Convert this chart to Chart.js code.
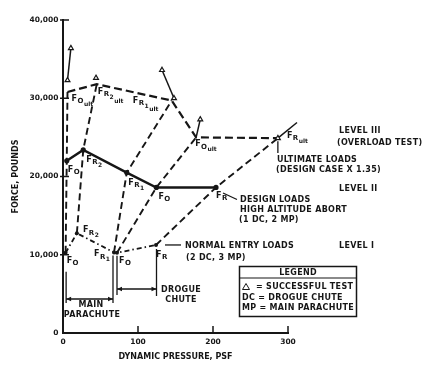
<!DOCTYPE html>
<html>
<head>
<meta charset="utf-8">
<script src="https://cdn.jsdelivr.net/npm/chart.js@4.4.1/dist/chart.umd.min.js"></script>
<style>
  html, body { margin: 0; padding: 0; background: #fff; }
</style>
</head>
<body>
<canvas id="chart" width="434" height="372"></canvas>
<script>
// Values: dynamic pressure (psf) / force (pounds)
// points in order: F_O, F_R2, F_R1, F_O, F_R
const ultPressure = [6, 45, 145, 177.5, 286.5];
const ultForce = [30800, 31800, 29700, 25000, 24900];
const designPressure = [5, 27, 85, 124.5, 204];
const designForce = [22000, 23400, 20500, 18600, 18600];
const normalPressure = [3.5, 18.5, 68, 72, 124];
const normalForce = [10250, 12750, 10300, 10250, 11250];
const pointSubs = [['O'], ['R', '2'], ['R', '1'], ['O'], ['R']];

// successful tests (pairs joined by a short solid line)
const testPressure = [[6, 10.5], [44], [132, 148], [177.5, 183], [286.5, 312]];
const testForce = [[32300, 36400], [32600], [33600, 30000], [25000, 27300], [24900, 26900]];
const testMarked = [[true, true], [true], [true, true], [false, true], [true, true]];

const pressureTicks = [0, 100, 200, 300];
const forceTicks = [0, 10000, 20000, 30000, 40000];

const INK = '#161616';
const FAMILY = "'DejaVu Sans', 'Liberation Sans', sans-serif";
const f = (size) => 'bold ' + size + 'px ' + FAMILY;

function pts(xs, ys) {
    return xs.map((x, i) => ({ x: x, y: ys[i] }));
}

const datasets = [];

// test markers on top
testPressure.forEach((xs, i) => {
    datasets.push({
        data: pts(xs, testForce[i]),
        borderColor: INK,
        borderWidth: 1.5,
        pointStyle: 'triangle',
        pointRadius: testMarked[i].map(m => m ? 2.8 : 0),
        pointBackgroundColor: '#fff',
        pointBorderColor: INK,
        pointBorderWidth: 1.2,
        clip: false
    });
});

datasets.push({
    data: pts(designPressure, designForce),
    borderColor: INK, borderWidth: 2.4,
    pointRadius: 2.6, pointBackgroundColor: INK, pointBorderWidth: 0,
    clip: false
});
datasets.push({
    data: pts(normalPressure, normalForce),
    borderColor: INK, borderWidth: 1.8, borderDash: [5, 3, 1.5, 3],
    pointRadius: 2, pointBackgroundColor: INK, pointBorderWidth: 0,
    clip: false
});
datasets.push({
    data: pts(ultPressure, ultForce),
    borderColor: INK, borderWidth: 2.2, borderDash: [8, 4],
    pointRadius: 0, clip: false
});
// scaling lines normal -> design -> ultimate
for (let i = 0; i < ultPressure.length; i++) {
    datasets.push({
        data: [
            { x: normalPressure[i], y: normalForce[i] },
            { x: designPressure[i], y: designForce[i] },
            { x: ultPressure[i], y: ultForce[i] }
        ],
        borderColor: INK, borderWidth: 1.9, borderDash: [7, 4],
        pointRadius: 0, clip: false
    });
}

// F label with stacked subscripts
function forceLabel(ctx, x, y, subs) {
    ctx.letterSpacing = '0px';
    ctx.textAlign = 'left';
    ctx.textBaseline = 'top';
    ctx.font = f(8);
    ctx.fillText('F', x, y);
    let cx = x + ctx.measureText('F').width + 0.5;
    let dy = 3;
    let size = 7;
    subs.forEach(s => {
        ctx.font = f(size);
        ctx.fillText(s, cx, y + dy);
        cx += ctx.measureText(s).width + 0.5;
        dy += 3.5;
        size = 6;
    });
}

function text(ctx, str, x, y, align) {
    ctx.font = f(8);
    ctx.letterSpacing = '0.3px';
    ctx.textAlign = align || 'left';
    ctx.textBaseline = 'middle';
    ctx.fillText(str, x, y);
}

function line(ctx, x1, y1, x2, y2, w) {
    ctx.lineWidth = w || 1.3;
    ctx.beginPath();
    ctx.moveTo(x1, y1);
    ctx.lineTo(x2, y2);
    ctx.stroke();
}

function arrowHead(ctx, x, y, dir) {
    ctx.beginPath();
    ctx.moveTo(x, y);
    ctx.lineTo(x + dir * 5, y - 2.2);
    ctx.lineTo(x + dir * 5, y + 2.2);
    ctx.closePath();
    ctx.fill();
}

// label offsets (pixels from point) per level
const ultLabelOff = [[4, 3], [1, 4], [-39, -4], [-1, 3], [9, -6]];
const designLabelOff = [[1, 5], [3, 6], [1.5, 6], [2, 5], [0, 4]];
const normalLabelOff = [[1, 4], [6, -7], [-20, -2], [2, 4], [0, 6]];

const annotations = {
    id: 'annotations',
    afterDatasetsDraw(chart) {
        const ctx = chart.ctx;
        const xs = chart.scales.x;
        const ys = chart.scales.y;
        const px = v => xs.getPixelForValue(v);
        const py = v => ys.getPixelForValue(v);
        ctx.save();
        ctx.fillStyle = INK;
        ctx.strokeStyle = INK;

        // axis tick marks
        forceTicks.slice(1).forEach(v => line(ctx, xs.left - 3, py(v), xs.left + 6, py(v), 1.5));
        pressureTicks.slice(1).forEach(v => line(ctx, px(v), ys.bottom, px(v), ys.bottom - 7, 1.5));

        // point labels
        for (let i = 0; i < pointSubs.length; i++) {
            forceLabel(ctx, px(ultPressure[i]) + ultLabelOff[i][0], py(ultForce[i]) + ultLabelOff[i][1], pointSubs[i].concat(['ult']));
            forceLabel(ctx, px(designPressure[i]) + designLabelOff[i][0], py(designForce[i]) + designLabelOff[i][1], pointSubs[i]);
            forceLabel(ctx, px(normalPressure[i]) + normalLabelOff[i][0], py(normalForce[i]) + normalLabelOff[i][1], pointSubs[i]);
        }

        // main parachute / drogue chute brackets
        const x0 = px(normalPressure[0]) + 0.5;
        const x1 = px(normalPressure[2]) - 1;
        const x2 = px(normalPressure[3]);
        const x3 = px(normalPressure[4]) + 0.5;
        const yMain = 299;
        const yDrogue = 289;
        line(ctx, x0, py(normalForce[0]) + 19, x0, yMain + 4);
        line(ctx, x1, py(normalForce[2]) + 3, x1, yMain + 4);
        line(ctx, x2, py(normalForce[3]) + 3, x2, yDrogue + 6);
        line(ctx, x3, py(normalForce[4]) + 4, x3, yDrogue + 7);
        line(ctx, x0, yMain, x1, yMain);
        arrowHead(ctx, x0, yMain, 1);
        arrowHead(ctx, x1, yMain, -1);
        line(ctx, x2, yDrogue, x3, yDrogue);
        arrowHead(ctx, x2, yDrogue, 1);
        arrowHead(ctx, x3, yDrogue, -1);
        text(ctx, 'MAIN', 91, 305, 'center');
        text(ctx, 'PARACHUTE', 92, 315, 'center');
        text(ctx, 'DROGUE', 181, 290, 'center');
        text(ctx, 'CHUTE', 181, 300, 'center');

        // leaders and load case notes
        const ux = px(ultPressure[4]);
        line(ctx, ux, py(ultForce[4]) + 3, ux, 153);
        line(ctx, 223, 193, 237, 199.5);
        line(ctx, px(normalPressure[4]) + 9, py(normalForce[4]), 181, py(normalForce[4]));

        text(ctx, 'LEVEL III', 339, 131);
        text(ctx, '(OVERLOAD TEST)', 337, 142.5);
        text(ctx, 'ULTIMATE LOADS', 277, 160);
        text(ctx, '(DESIGN CASE X 1.35)', 276, 169.5);
        text(ctx, 'LEVEL II', 339, 189);
        text(ctx, 'DESIGN LOADS', 240, 199.5);
        text(ctx, 'HIGH ALTITUDE ABORT', 240, 209.5);
        text(ctx, '(1 DC, 2 MP)', 239, 220);
        text(ctx, 'NORMAL ENTRY LOADS', 185, 246);
        text(ctx, '(2 DC, 3 MP)', 186, 258);
        text(ctx, 'LEVEL I', 339, 246);

        // legend box
        ctx.lineWidth = 1.5;
        ctx.strokeRect(239.5, 266.5, 117, 50);
        line(ctx, 239.5, 278, 356.5, 278, 1.2);
        text(ctx, 'LEGEND', 298, 272.5, 'center');
        ctx.lineWidth = 1;
        ctx.beginPath();
        ctx.moveTo(246, 283.5);
        ctx.lineTo(249.5, 289.5);
        ctx.lineTo(242.5, 289.5);
        ctx.closePath();
        ctx.stroke();
        text(ctx, '= SUCCESSFUL TEST', 256, 287);
        text(ctx, 'DC = DROGUE CHUTE', 242, 297.5);
        text(ctx, 'MP = MAIN PARACHUTE', 242, 308);
        ctx.restore();
    }
};

const tickFont = { family: FAMILY, size: 7.5, weight: 'bold' };
const titleFont = { family: FAMILY, size: 8, weight: 'bold' };

new Chart(document.getElementById('chart'), {
    type: 'line',
    data: { datasets: datasets },
    options: {
        responsive: false,
        devicePixelRatio: 1,
        animation: false,
        events: [],
        layout: { padding: { top: 20, right: 146, bottom: 0, left: 0 } },
        plugins: {
            legend: { display: false },
            tooltip: { enabled: false }
        },
        elements: { line: { tension: 0 } },
        scales: {
            x: {
                type: 'linear',
                min: 0,
                max: 300,
                afterBuildTicks: s => { s.ticks = pressureTicks.map(v => ({ value: v })); },
                ticks: { color: INK, font: tickFont, padding: 5, maxRotation: 0 },
                grid: { display: false, drawTicks: false },
                border: { display: true, color: INK, width: 2 },
                title: {
                    display: true, text: 'DYNAMIC PRESSURE, PSF', color: INK, font: titleFont,
                    padding: { top: 0, bottom: 10 }
                },
                afterFit: s => { s.height = 39; }
            },
            y: {
                min: 0,
                max: 40000,
                afterBuildTicks: s => { s.ticks = forceTicks.map(v => ({ value: v })); },
                ticks: {
                    color: INK, font: tickFont, padding: 4.5,
                    callback: v => v.toLocaleString('en-US')
                },
                grid: { display: false, drawTicks: false },
                border: { display: true, color: INK, width: 2 },
                title: {
                    display: true, text: 'FORCE, POUNDS', color: INK, font: titleFont,
                    padding: { top: 11.5, bottom: 0 }
                },
                afterFit: s => { s.width = 63; }
            }
        }
    },
    plugins: [annotations]
});
</script>
</body>
</html>
